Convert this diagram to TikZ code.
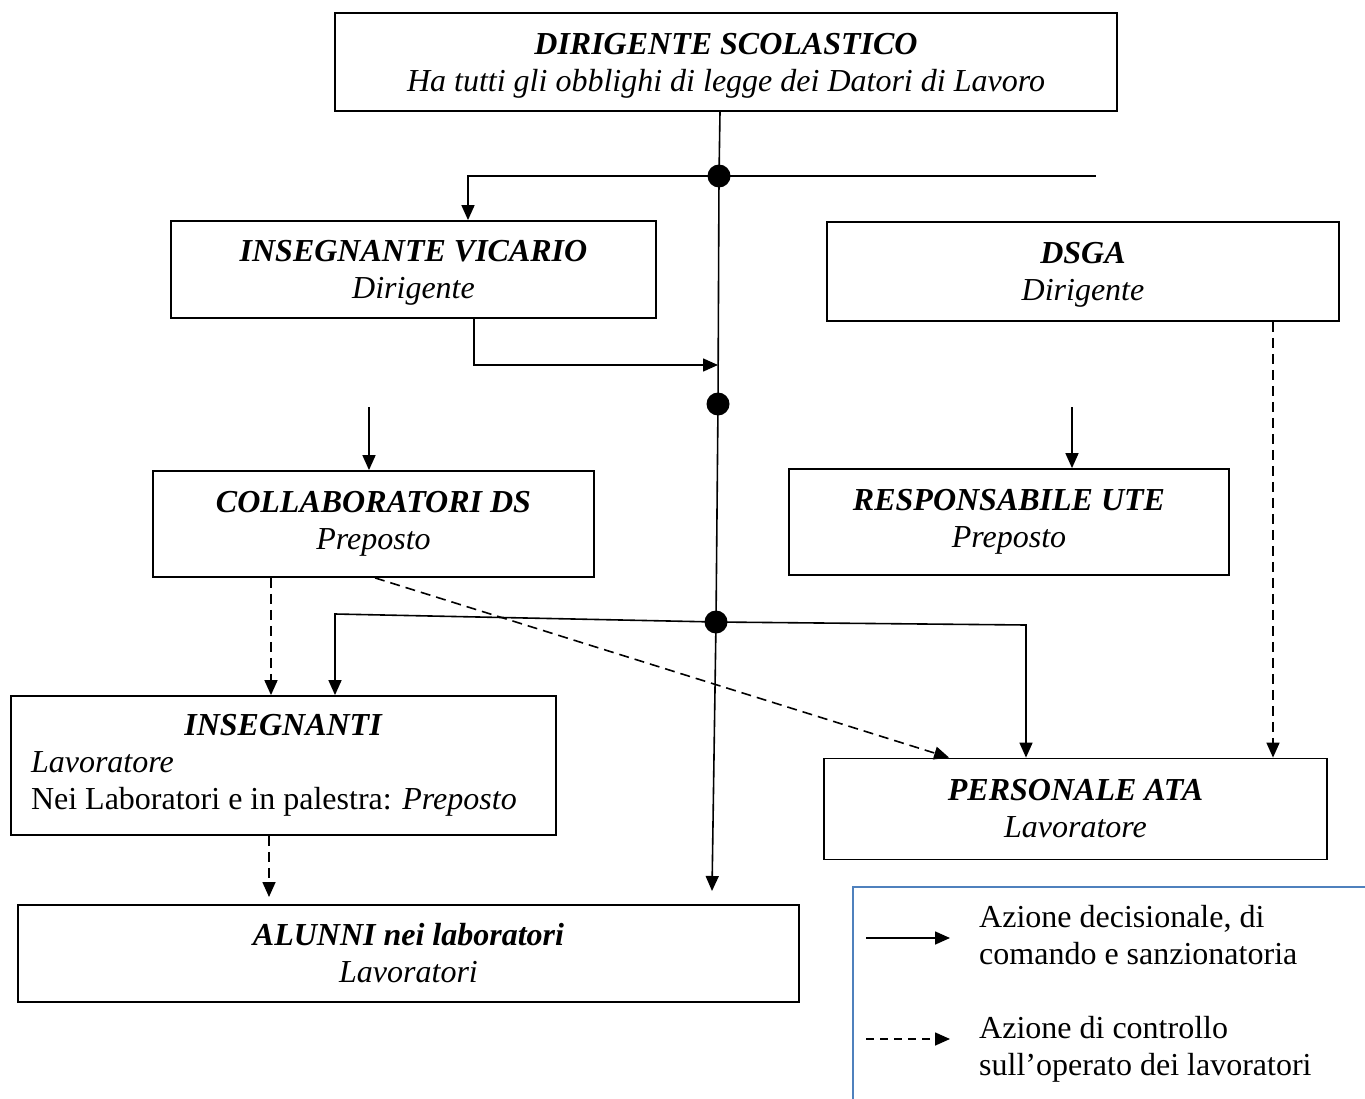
\documentclass[tikz,border=0pt]{standalone}
\usepackage{fontspec}
\setmainfont{Liberation Serif}
\usetikzlibrary{positioning, arrows.meta, calc}
\definecolor{bordoblu}{RGB}{79,129,189}

\tikzset{
  box/.style={draw, line width=1.8pt, inner sep=0pt, align=center, font=\fontsize{32}{37}\selectfont},
  basso/.style={text depth=0pt},
  cmd/.style={line width=1.6pt, -{Triangle[length=15pt,width=13pt]}},
  ctrl/.style={cmd, dash pattern=on 10pt off 6pt},
}
\newcommand{\titolo}[1]{\textbf{\textit{#1}}}

\begin{document}
\begin{tikzpicture}[x=1pt, y=-1pt]
  \useasboundingbox (0,0) rectangle (1365,1099);

  % Riquadri dei ruoli
  \node[box, basso, minimum width=782, minimum height=98] (ds) at (726,62)
    {\titolo{DIRIGENTE SCOLASTICO}\\ \textit{Ha tutti gli obblighi di legge dei Datori di Lavoro}};
  \node[box, basso, minimum width=485, minimum height=97] (vicario) at (413.5,269.5)
    {\titolo{INSEGNANTE VICARIO}\\ \textit{Dirigente}};
  \node[box, basso, minimum width=512, minimum height=99] (dsga) at (1083,271.5)
    {\titolo{DSGA}\\ \textit{Dirigente}};
  \node[box, minimum width=441, minimum height=106] (collab) at (373.5,524)
    {\titolo{COLLABORATORI DS}\\ \textit{Preposto}};
  \node[box, minimum width=440, minimum height=106] (ute) at (1009,522)
    {\titolo{RESPONSABILE UTE}\\ \textit{Preposto}};
  \node[box, minimum width=545, minimum height=139, text width=505, align=flush left] (insegnanti) at (283.5,765.5)
    {\makebox[\linewidth]{\titolo{INSEGNANTI}}\\ \textit{Lavoratore}\\ Nei Laboratori e in palestra: \textit{Preposto}};
  \node[box, minimum width=503, minimum height=101] (ata) at (1075.5,809)
    {\titolo{PERSONALE ATA}\\ \textit{Lavoratore}};
  \node[box, minimum width=781, minimum height=97] (alunni) at (408.5,953.5)
    {\titolo{ALUNNI nei laboratori}\\ \textit{Lavoratori}};

  % Punti di snodo sulla linea principale
  \coordinate (j1) at (719,176);
  \coordinate (j2) at (718,404);
  \coordinate (j3) at (716,622);
  \coordinate (fine) at (712,891);

  % Linea principale
  \draw[cmd] ([xshift=-6pt]ds.south) -- (j1) -- (j2) -- (j3) -- (fine);

  % Diramazione superiore
  \coordinate (sx1) at (468,176);
  \coordinate (dx1) at (1096,176);
  \draw[line width=1.6pt] (j1) -- (dx1);
  \draw[cmd] (j1) -- (sx1) -- (sx1 |- vicario.north);

  % Dal vicario alla linea principale
  \coordinate (vout) at ([xshift=60.5pt]vicario.south);
  \coordinate (vin) at (718,365);
  \draw[cmd] (vout) -- (vout |- vin) -- (vin);

  % Frecce verso i preposti
  \coordinate (c0) at (369,407);
  \draw[cmd] (c0) -- (c0 |- collab.north);
  \coordinate (u0) at (1072,407);
  \draw[cmd] (u0) -- (u0 |- ute.north);

  % Diramazione inferiore
  \coordinate (sx3) at (335,614);
  \coordinate (dx3) at (1026,625);
  \draw[cmd] (j3) -- (sx3) -- (sx3 |- insegnanti.north);
  \draw[cmd] (j3) -- (dx3) -- (dx3 |- ata.north);

  % Azioni di controllo
  \coordinate (cout) at ([xshift=-102.5pt]collab.south);
  \draw[ctrl] (cout) -- (cout |- insegnanti.north);
  \draw[ctrl] ([xshift=1.5pt]collab.south) -- ([xshift=126pt]ata.north west);
  \coordinate (dout) at ([xshift=190pt]dsga.south);
  \draw[ctrl] (dout) -- (dout |- ata.north);
  \coordinate (iout) at ([xshift=-14.5pt]insegnanti.south);
  \coordinate (afine) at (269,897);
  \draw[ctrl] (iout) -- (afine);

  % Nodi
  \foreach \p in {j1,j2,j3}
    \fill (\p) circle (11.5pt);

  % Legenda
  \begin{scope}
    \clip (0,0) rectangle (1365,1099);
    \node[draw=bordoblu, line width=1.5pt, minimum width=560, minimum height=260, anchor=north west] (legenda) at (852,886) {};
  \end{scope}
  \coordinate (l1) at (866,938);
  \coordinate (l1e) at (950,938);
  \draw[cmd] (l1) -- (l1e);
  \node[anchor=west, align=left, inner sep=0pt, font=\fontsize{32}{37}\selectfont] (t1) at (979,935.5)
    {Azione decisionale, di\\ comando e sanzionatoria};
  \coordinate (l2) at (866,1039);
  \coordinate (l2e) at (950,1039);
  \draw[cmd, dash pattern=on 8pt off 6pt] (l2) -- (l2e);
  \node[anchor=west, align=left, inner sep=0pt, font=\fontsize{32}{37}\selectfont] (t2) at (979,1049)
    {Azione di controllo\\ sull’operato dei lavoratori};
\end{tikzpicture}
\end{document}
